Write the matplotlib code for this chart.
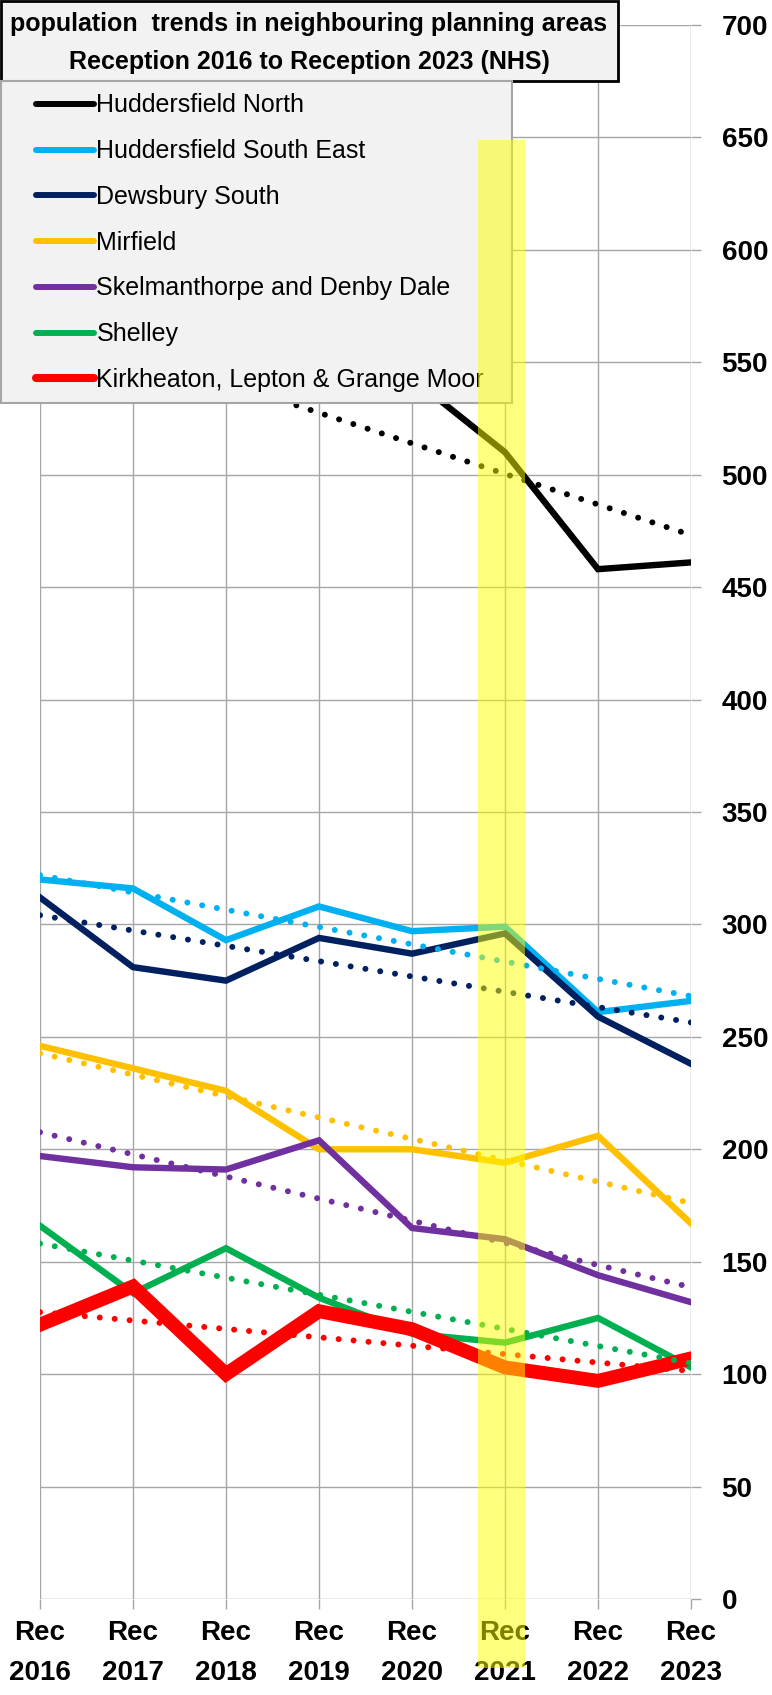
import numpy as np
import matplotlib
matplotlib.use("Agg")
import matplotlib.pyplot as plt
from matplotlib import font_manager
from matplotlib.lines import Line2D
from matplotlib.patches import Rectangle
from matplotlib.transforms import blended_transform_factory

# -----------------------------
# Fonts (narrow face, close to Calibri, if there is one)
# -----------------------------
names = {f.name for f in font_manager.fontManager.ttflist}
base_font = 'Liberation Sans Narrow' if 'Liberation Sans Narrow' in names else 'Liberation Sans'
plt.rcParams['font.family'] = [base_font, 'DejaVu Sans']

# -----------------------------
# Data
# -----------------------------
years = ['2016', '2017', '2018', '2019', '2020', '2021', '2022', '2023']
tick_labels = ['Rec\n' + y for y in years]

huddersfield_north = [540, 548, 553, 553, 543, 510, 458, 461]
huddersfield_south_east = [320, 316, 293, 308, 297, 299, 261, 266]
dewsbury_south = [312, 281, 275, 294, 287, 296, 259, 238]
mirfield = [246, 236, 226, 200, 200, 194, 206, 167]
skelmanthorpe = [197, 192, 191, 204, 165, 160, 144, 132]
shelley = [166, 136, 156, 134, 118, 114, 125, 103]
kirkheaton = [122, 139, 100, 128, 120, 103, 97, 107]

series_names = ['Huddersfield North', 'Huddersfield South East', 'Dewsbury South',
                'Mirfield', 'Skelmanthorpe and Denby Dale', 'Shelley',
                'Kirkheaton, Lepton & Grange Moor']
series_values = [huddersfield_north, huddersfield_south_east, dewsbury_south,
                 mirfield, skelmanthorpe, shelley, kirkheaton]
series_colors = ['#000000', '#00B0F0', '#002060', '#FFC000', '#7030A0', '#00B050', '#FF0000']
series_widths = [4.6, 4.6, 4.6, 4.6, 4.6, 4.6, 10.0]

title_text = 'population  trends in neighbouring planning areas\nReception 2016 to Reception 2023 (NHS)'
highlight_year = '2021'

# -----------------------------
# Figure
# -----------------------------
W, H = 772, 1695
fig = plt.figure(figsize=(W / 100, H / 100), dpi=100)
ax = fig.add_axes([40 / W, 1 - 1599 / H, 651 / W, (1599 - 25) / H])

x = np.arange(len(years))
for vals, col, lw in zip(series_values, series_colors, series_widths):
    ax.plot(x, vals, color=col, lw=lw, solid_joinstyle='miter', zorder=3)

# linear trendlines (dotted)
for vals, col in zip(series_values, series_colors):
    slope, icpt = np.polyfit(x, vals, 1)
    ax.plot(x, slope * x + icpt, color=col, lw=4.3,
            linestyle=(0, (0.01, 2.5)), dash_capstyle='round', zorder=4)

ax.set_xlim(0, 7)
ax.set_ylim(0, 700)
ax.set_yticks(np.arange(0, 701, 50))
ax.set_xticks(x)
ax.set_xticklabels(tick_labels)
ax.yaxis.tick_right()
ax.grid(True, color='#A6A6A6', lw=1.0)
ax.set_axisbelow(True)
for s in ax.spines.values():
    s.set_visible(False)
ax.tick_params(axis='y', length=7, color='#A6A6A6', width=1.0, pad=15, labelsize=20)
ax.tick_params(axis='x', length=7, color='#A6A6A6', width=1.0, pad=8, labelsize=20)
for lbl in ax.get_yticklabels():
    lbl.set_fontweight('bold')
for lbl in ax.get_xticklabels():
    lbl.set_fontweight('bold')
    lbl.set_linespacing(1.7)

# -----------------------------
# Title box
# -----------------------------
fig.add_artist(Rectangle((0.001, 1 - 81 / H), 617 / W, 80 / H, transform=fig.transFigure,
                         facecolor='#F2F2F2', edgecolor='black', lw=2, zorder=6))
fig.text(309 / W, 1 - 43 / H, title_text, ha='center', va='center', fontsize=18,
         fontweight='bold', linespacing=1.7, zorder=7)

# -----------------------------
# Legend box
# -----------------------------
fig.add_artist(Rectangle((0.001, 1 - 403 / H), 511 / W, 322 / H, transform=fig.transFigure,
                         facecolor='#F2F2F2', edgecolor='#A6A6A6', lw=1.5, zorder=6))
handles = [Line2D([], [], color=c, lw=(5.8 if lw > 5 else 4.3), solid_capstyle='round')
           for c, lw in zip(series_colors, series_widths)]
leg = fig.legend(handles, series_names, loc='upper left', bbox_to_anchor=(36 / W, 1 - 93.5 / H),
                 frameon=False, borderpad=0, borderaxespad=0, handlelength=2.3,
                 handletextpad=0.12, labelspacing=0.87, fontsize=18)
leg.set_zorder(7)

# -----------------------------
# Highlight band over Rec 2021
# -----------------------------
hx = years.index(highlight_year)
band_tr = blended_transform_factory(ax.transData, fig.transFigure)
fig.add_artist(Rectangle((hx - 0.29, 1 - 1668 / H), 0.51, (1668 - 140) / H, transform=band_tr,
                         facecolor='#FFFF00', alpha=0.5, lw=0, zorder=20))

fig.savefig('out.png', dpi=100)
